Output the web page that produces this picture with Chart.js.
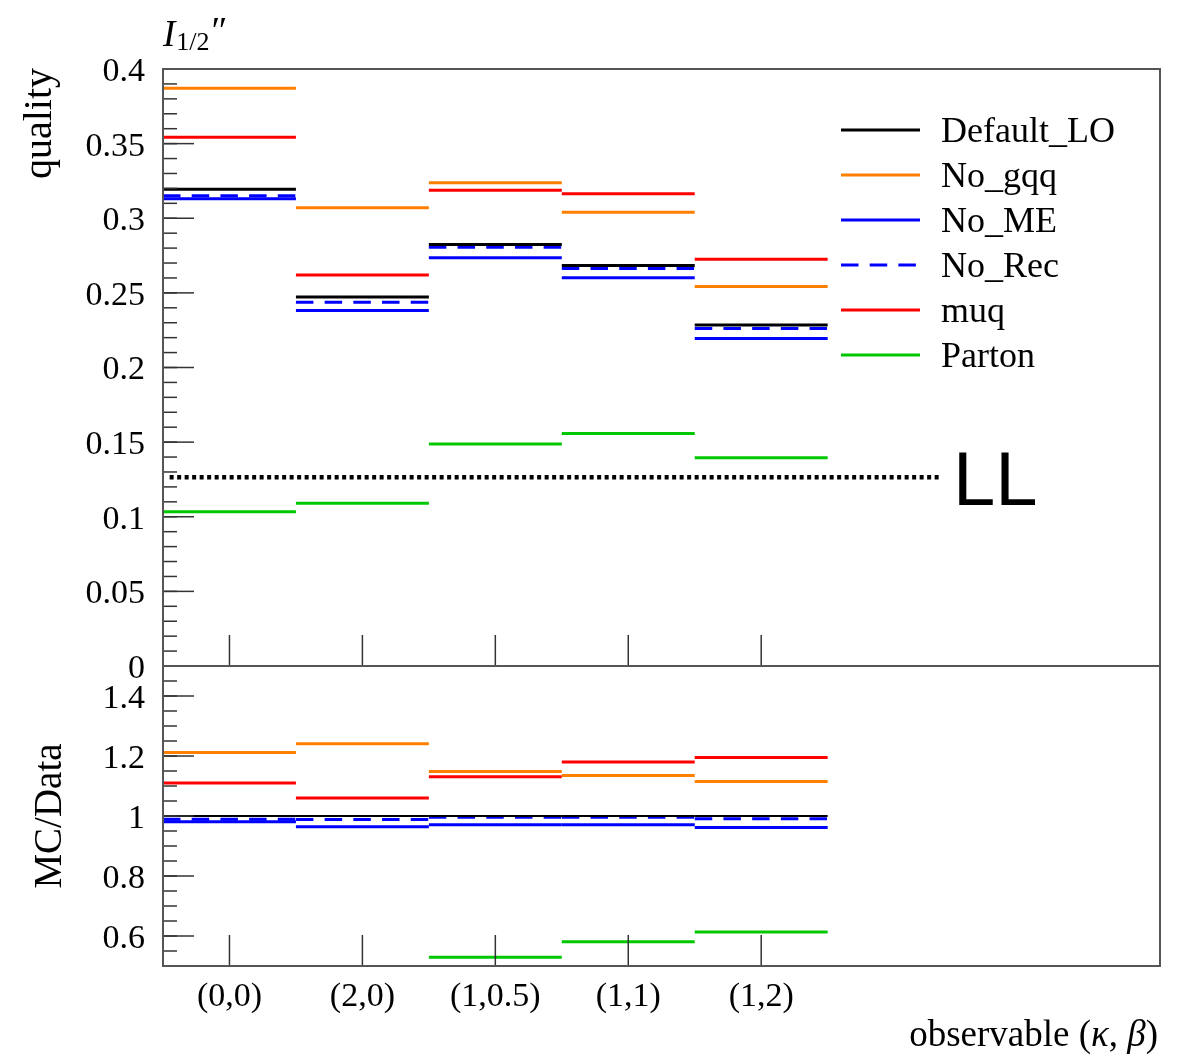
<!DOCTYPE html>
<html>
<head>
<meta charset="utf-8">
<script src="https://cdn.jsdelivr.net/npm/chart.js@4.4.0/dist/chart.umd.min.js"></script>
<style>
    body { margin: 0; background: #fff; }
    #wrap { position: relative; width: 1192px; height: 1058px; }
    canvas { position: absolute; left: 0; top: 0; }
</style>
</head>
<body>
<div id="wrap">
    <canvas id="ratio" width="1192" height="1058"></canvas>
    <canvas id="main" width="1192" height="1058"></canvas>
</div>
<script>
const observables = ['(0,0)', '(2,0)', '(1,0.5)', '(1,1)', '(1,2)'];
const seriesNames = ['Default_LO', 'No_gqq', 'No_ME', 'No_Rec', 'muq', 'Parton'];
const seriesColors = ['#000000', '#ff8000', '#0000ff', '#0000ff', '#ff0000', '#00c800'];

// quality per observable
const defaultLO = [0.3195, 0.2472, 0.2824, 0.2684, 0.2284];
const noGqq = [0.3871, 0.3070, 0.3238, 0.3041, 0.2543];
const noME = [0.3131, 0.2382, 0.2735, 0.2601, 0.2195];
const noRec = [0.3151, 0.2438, 0.2806, 0.2664, 0.2262];
const muq = [0.3543, 0.2619, 0.3188, 0.3164, 0.2726];
const parton = [0.1034, 0.1090, 0.1487, 0.1557, 0.1396];
const llLevel = 0.1264;
const llRange = [0.05, 5.85];

// MC/Data ratios
const ratioDefaultLO = [1, 1, 1, 1, 1];
const ratioNoGqq = [1.212, 1.241, 1.148, 1.135, 1.115];
const ratioNoME = [0.981, 0.964, 0.971, 0.971, 0.962];
const ratioNoRec = [0.989, 0.988, 0.996, 0.996, 0.991];
const ratioMuq = [1.110, 1.060, 1.131, 1.180, 1.195];
const ratioParton = [null, null, 0.529, 0.581, 0.613];

const topTicks = [0, 0.05, 0.1, 0.15, 0.2, 0.25, 0.3, 0.35, 0.4];
const topTickLabels = ['0', '0.05', '0.1', '0.15', '0.2', '0.25', '0.3', '0.35', '0.4'];
const ratioTicks = [0.6, 0.8, 1, 1.2, 1.4];
const ratioTickLabels = ['0.6', '0.8', '1', '1.2', '1.4'];

const SERIF = "'Liberation Serif', 'DejaVu Serif', serif";

// one horizontal segment per observable bin, gaps in between
function binSegments(values) {
    const pts = [];
    values.forEach((v, i) => {
        if (v == null) return;
        pts.push({ x: i, y: v }, { x: i + 1, y: v }, { x: i + 1, y: null });
    });
    return pts;
}

function makeDatasets(lists, blackWidth) {
    return lists.map((vals, i) => ({
        label: seriesNames[i],
        data: binSegments(vals),
        borderColor: seriesColors[i],
        borderWidth: i === 0 ? blackWidth : 3,
        borderDash: seriesNames[i] === 'No_Rec' ? [17.5, 11.2] : [],
        pointRadius: 0,
        tension: 0,
        segment: {}
    }));
}

function axesPlugin(ticks, labels, minorStep, labelShift) {
    return {
        id: 'axes',
        afterDatasetsDraw(chart) {
            const { ctx, chartArea: a, scales: { x, y } } = chart;
            ctx.save();
            ctx.strokeStyle = '#333';
            ctx.lineWidth = 1.5;
            const n = Math.round((y.max - y.min) / minorStep);
            for (let i = 0; i <= n; i++) {
                const py = y.getPixelForValue(y.min + i * minorStep);
                ctx.beginPath();
                ctx.moveTo(a.left, py);
                ctx.lineTo(a.left + 14, py);
                ctx.stroke();
            }
            ctx.fillStyle = '#000';
            ctx.font = '34px ' + SERIF;
            ctx.textAlign = 'right';
            ctx.textBaseline = 'middle';
            ticks.forEach((v, i) => {
                const py = y.getPixelForValue(v);
                ctx.beginPath();
                ctx.moveTo(a.left, py);
                ctx.lineTo(a.left + 31, py);
                ctx.stroke();
                ctx.fillText(labels[i], a.left - 18, py + labelShift);
            });
            observables.forEach((_, i) => {
                const px = x.getPixelForValue(i + 0.5);
                ctx.beginPath();
                ctx.moveTo(px, a.bottom);
                ctx.lineTo(px, a.bottom - 31);
                ctx.stroke();
            });
            ctx.strokeStyle = '#555';
            ctx.lineWidth = 2;
            ctx.strokeRect(a.left, a.top, a.right - a.left, a.bottom - a.top);
            ctx.restore();
        }
    };
}

const mainDecor = {
    id: 'mainDecor',
    afterDatasetsDraw(chart) {
        const ctx = chart.ctx;
        ctx.save();
        ctx.fillStyle = '#000';
        // plot title
        ctx.textAlign = 'left';
        ctx.textBaseline = 'alphabetic';
        ctx.font = 'italic 37px ' + SERIF;
        ctx.fillText('I', 163, 46);
        const iw = ctx.measureText('I').width;
        ctx.font = '26px ' + SERIF;
        ctx.fillText('1/2', 163 + iw + 1, 50);
        const sw = ctx.measureText('1/2').width;
        ctx.font = '38px ' + SERIF;
        ctx.fillText('\u2033', 163 + iw + sw + 3, 43);

        // y title
        ctx.save();
        ctx.translate(51, 68);
        ctx.rotate(-Math.PI / 2);
        ctx.font = '40px ' + SERIF;
        ctx.textAlign = 'right';
        ctx.fillText('quality', 0, 0);
        ctx.restore();

        // LL label
        ctx.font = '76px "Liberation Sans", Arial, sans-serif';
        ctx.fillText('LL', 953, 505);

        // legend
        chart.data.datasets.filter(d => !d.noLegend).forEach((ds, i) => {
            const ly = 130 + i * 45;
            ctx.strokeStyle = ds.borderColor;
            ctx.lineWidth = 3;
            ctx.setLineDash(ds.borderDash || []);
            ctx.beginPath();
            ctx.moveTo(841, ly);
            ctx.lineTo(920, ly);
            ctx.stroke();
            ctx.setLineDash([]);
            ctx.font = '36px ' + SERIF;
            ctx.fillText(ds.label, 941, ly + 12);
        });
        ctx.restore();
    }
};

const ratioDecor = {
    id: 'ratioDecor',
    afterDatasetsDraw(chart) {
        const { ctx, scales: { x } } = chart;
        ctx.save();
        ctx.fillStyle = '#000';
        ctx.textBaseline = 'alphabetic';

        ctx.save();
        ctx.translate(61, 816);
        ctx.rotate(-Math.PI / 2);
        ctx.font = '39px ' + SERIF;
        ctx.textAlign = 'center';
        ctx.fillText('MC/Data', 0, 0);
        ctx.restore();

        ctx.font = '34px ' + SERIF;
        ctx.textAlign = 'center';
        observables.forEach((name, i) => {
            ctx.fillText(name, x.getPixelForValue(i + 0.5), 1006);
        });

        // x title with italic greek letters
        const parts = [['observable (', false], ['\u03BA', true], [', ', false], ['\u03B2', true], [')', false]];
        let total = 0;
        parts.forEach(p => {
            ctx.font = (p[1] ? 'italic ' : '') + '37px ' + SERIF;
            total += ctx.measureText(p[0]).width;
        });
        let cx = 1158 - total;
        ctx.textAlign = 'left';
        parts.forEach(p => {
            ctx.font = (p[1] ? 'italic ' : '') + '37px ' + SERIF;
            ctx.fillText(p[0], cx, 1046);
            cx += ctx.measureText(p[0]).width;
        });
        ctx.restore();
    }
};

function baseOptions(padding, yMin, yMax) {
    return {
        responsive: false,
        animation: false,
        devicePixelRatio: 1,
        layout: { padding: padding },
        plugins: { legend: { display: false }, tooltip: { enabled: false } },
        scales: {
            x: { type: 'linear', min: 0, max: 7.5, display: false },
            y: { type: 'linear', min: yMin, max: yMax, display: false }
        }
    };
}

const mainSets = makeDatasets([defaultLO, noGqq, noME, noRec, muq, parton], 3);
mainSets.push({
    label: 'LL',
    noLegend: true,
    data: [{ x: llRange[0], y: llLevel }, { x: llRange[1], y: llLevel }],
    borderColor: '#000',
    borderWidth: 4.5,
    borderDash: [4, 3.5],
    pointRadius: 0
});

new Chart(document.getElementById('main'), {
    type: 'line',
    data: { datasets: mainSets },
    options: baseOptions({ left: 163, right: 32, top: 69, bottom: 392 }, 0, 0.4),
    plugins: [axesPlugin(topTicks, topTickLabels, 0.01, 3), mainDecor]
});

new Chart(document.getElementById('ratio'), {
    type: 'line',
    data: { datasets: makeDatasets([ratioDefaultLO, ratioNoGqq, ratioNoME, ratioNoRec, ratioMuq, ratioParton], 2) },
    options: baseOptions({ left: 163, right: 32, top: 666, bottom: 92 }, 0.5, 1.5),
    plugins: [axesPlugin(ratioTicks, ratioTickLabels, 0.05, 3), ratioDecor]
});
</script>
</body>
</html>
